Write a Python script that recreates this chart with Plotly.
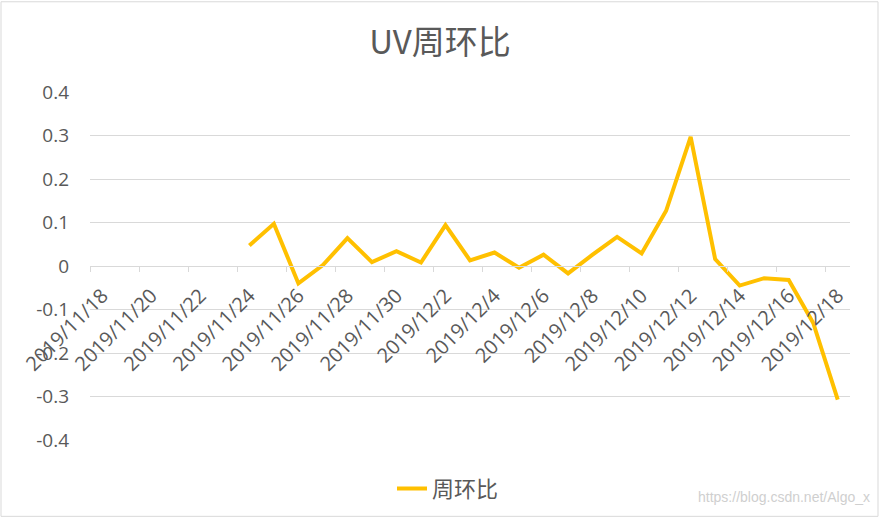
import plotly.graph_objects as go

# ---- data ----
dates = (["2019/11/%d" % d for d in range(18, 31)] +
         ["2019/12/%d" % d for d in range(1, 19)])
uv_wow = [None, None, None, None, None, None,
          0.047, 0.097, -0.040, 0.002, 0.064, 0.009, 0.034,
          0.008, 0.094, 0.013, 0.031, -0.004, 0.026, -0.017,
          0.026, 0.067, 0.029, 0.127, 0.297, 0.016, -0.045,
          -0.028, -0.032, -0.131, -0.307]
series_name = "周环比"
title_text = "UV周环比"
y_tick_vals = [-0.4, -0.3, -0.2, -0.1, 0, 0.1, 0.2, 0.3, 0.4]
y_tick_text = ["-0.4", "-0.3", "-0.2", "-0.1", "0", "0.1", "0.2", "0.3", "0.4"]
watermark = "https://blog.csdn.net/Algo_x"

W, H = 880, 522
ML, MR, MT, MB = 90, 30, 92, 79
PW, PH = W - ML - MR, H - MT - MB

def px_x(p):
    return (p - ML) / PW

def px_y(p):
    return (H - MB - p) / PH

GRAY = "#595959"
GRID = "#d9d9d9"

fig = go.Figure()
fig.add_trace(go.Scatter(
    x=dates, y=uv_wow, mode="lines", name=series_name,
    line=dict(color="#FFC000", width=4),
    connectgaps=False, showlegend=True,
))

fig.update_layout(
    width=W, height=H,
    margin=dict(l=ML, r=MR, t=MT, b=MB),
    paper_bgcolor="white", plot_bgcolor="white",
    title=dict(text=title_text, x=0.5, xanchor="center",
               y=1 - 42 / H, yanchor="middle", yref="container",
               font=dict(family="Noto Sans CJK SC", size=33, color=GRAY)),
    showlegend=True,
    legend=dict(orientation="h", x=px_x(392), xanchor="left",
                y=px_y(492), yanchor="middle",
                font=dict(family="Noto Sans CJK SC", size=22, color=GRAY),
                bgcolor="rgba(0,0,0,0)"),
    xaxis=dict(
        type="category", categoryorder="array", categoryarray=dates,
        range=[-0.5, len(dates) - 0.5],
        anchor="free", position=0.5,
        showline=True, linecolor=GRID, linewidth=1,
        showgrid=False, zeroline=False,
        tickmode="linear", tick0=0, dtick=2,
        tickson="boundaries", ticks="outside", ticklen=5, tickcolor=GRID,
        tickangle=-45, ticklabelstandoff=9,
        tickfont=dict(family="Open Sans", size=20, color=GRAY),
    ),
    yaxis=dict(
        range=[-0.4, 0.4], tickmode="array",
        tickvals=y_tick_vals, ticktext=y_tick_text,
        showgrid=True, gridcolor=GRID, gridwidth=1,
        zeroline=False, showline=False, ticks="",
        ticklabelstandoff=20,
        tickfont=dict(family="Open Sans", size=19, color=GRAY),
    ),
)

fig.add_annotation(text=watermark, xref="paper", yref="paper",
                   x=px_x(872), y=px_y(500), xanchor="right", yanchor="middle",
                   showarrow=False,
                   font=dict(family="Liberation Sans", size=14, color="#cfcfcf"))

fig.add_shape(type="rect", xref="paper", yref="paper",
              x0=px_x(1), x1=px_x(878), y0=px_y(520), y1=px_y(1),
              line=dict(color=GRID, width=1), fillcolor="rgba(0,0,0,0)",
              layer="below")

fig.write_html("out.html", config={"displayModeBar": False},
               post_script="document.body.style.margin='0px';document.body.style.overflow='hidden';")
